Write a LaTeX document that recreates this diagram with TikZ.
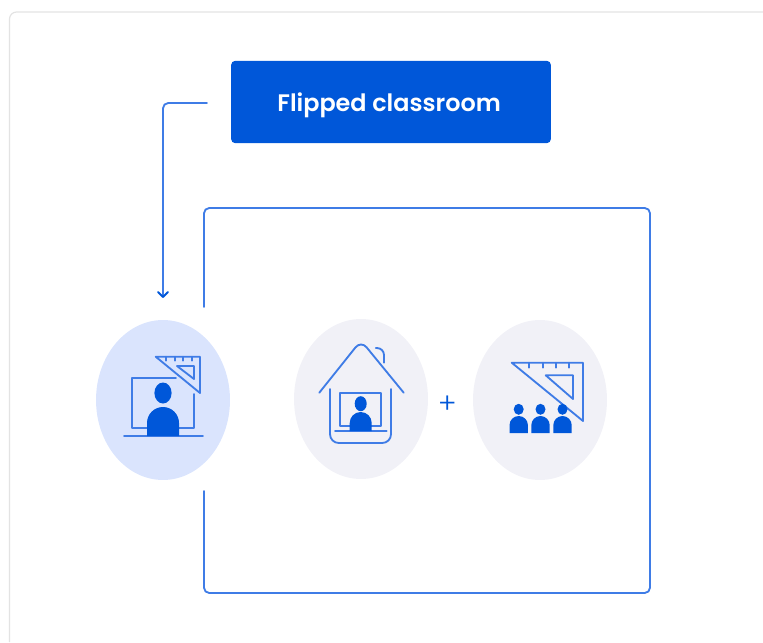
\documentclass[tikz,border=0pt]{standalone}
\usepackage{fontspec}
\setmainfont{Poppins}
\newfontfamily\titlefont{Poppins SemiBold}
\newfontfamily\plusfont{Poppins Light}
\usetikzlibrary{shapes.geometric}
\definecolor{darkblue}{HTML}{0057D9}
\definecolor{lineblue}{HTML}{3F7CE6}
\definecolor{paleblue}{HTML}{DAE4FD}
\definecolor{palegrey}{HTML}{F1F1F7}
\definecolor{cardgrey}{HTML}{E3E3E3}
\tikzset{
    blob/.style={ellipse, inner sep=0, minimum width=2.68cm, minimum height=3.2cm},
    thinline/.style={draw=lineblue, line width=1.05pt, line join=round, line cap=round},
    solidpart/.style={fill=darkblue},
}
\begin{document}
\begin{tikzpicture}[x=0.02cm, y=-0.02cm]
        \useasboundingbox (0, 0) rectangle (763, 642);

        % Card behind everything
        \draw[cardgrey, line width=0.7pt, rounded corners=4] (763, 12) -- (9.5, 12) -- (9.5, 642);

        % Title box
        \node[fill=darkblue, rounded corners=2.5pt, inner sep=0, minimum width=6.4cm, minimum height=1.65cm, text=white, text height=12pt, text depth=0.8pt, font=\fontsize{13.6}{15}\titlefont] (title) at (391, 102) {\mbox{Flipped classroom\hspace{2.2pt}}};

        % Ellipses
        \node[blob, fill=paleblue] (online) at (163, 400) {};
        \node[blob, fill=palegrey] (home) at (361, 399) {};
        \node[blob, fill=palegrey] (school) at (540, 400) {};
        \node[text=darkblue, font=\fontsize{16}{18}\plusfont] (plus) at (447.3, 405) {+};

        % Arrow from title down to the first ellipse
        \coordinate (titleout) at (207, 103);
        \coordinate (onlinein) at (163, 297);
        \draw[thinline, rounded corners=3] (titleout) -- (163, 103) -- (onlinein);
        \draw[thinline, draw=darkblue] (158, 292) -- (onlinein) -- (168, 292);

        % Frame open on the side of the first ellipse
        \coordinate (frametop) at (204, 307);
        \coordinate (framebottom) at (204, 491);
        \draw[thinline, rounded corners=3] (frametop) -- (204, 208) -- (650, 208) -- (650, 593) -- (204, 593) -- (framebottom);

        % First icon: screen, person and set square
        \draw[thinline] (176, 378) -- (132, 378) -- (132, 427.7) -- (194, 427.7) -- (194, 394);
        \draw[thinline] (124, 436) -- (203, 436);
        \fill[solidpart] (163, 393) ellipse (8.6 and 10.5);
        \fill[solidpart] (147, 436) -- (147, 423) arc[start angle=180, end angle=360, radius=16] -- (179, 436) -- cycle;
        \draw[thinline] (155.7, 356.7) -- (200, 356.7) -- (200, 393) -- cycle;
        \draw[thinline] (177, 366) -- (194, 366) -- (194, 379) -- cycle;
        \foreach \tick in {165.7, 175, 183, 191.7}
            \draw[thinline] (\tick, 356.7) -- (\tick, 360.7);

        % Second icon: house with screen and person
        \draw[thinline, rounded corners=5] (319.3, 392.7) -- (361, 340.5) -- (403.7, 392.7);
        \draw[thinline, rounded corners=4] (375.7, 348) -- (384, 348) -- (384, 362.7);
        \draw[thinline, rounded corners=5] (330, 389) -- (330, 443) -- (391, 443) -- (391, 389);
        \draw[thinline] (340.3, 393.3) rectangle (381, 425.7);
        \draw[thinline] (335, 431.3) -- (386.7, 431.3);
        \fill[solidpart] (360.7, 403.7) ellipse (6 and 7.5);
        \fill[solidpart] (349.7, 431) -- (349.7, 423) arc[start angle=180, end angle=360, radius=11] -- (371.7, 431) -- cycle;

        % Third icon: set square and three people
        \draw[thinline] (511.7, 362.7) -- (583, 362.7) -- (583, 421) -- cycle;
        \draw[thinline] (545.7, 375.3) -- (573, 375.3) -- (573, 399) -- cycle;
        \foreach \tick in {529.3, 542.7, 556, 569.3}
            \draw[thinline] (\tick, 362.7) -- (\tick, 367.7);
        \foreach \pupil in {518.7, 540.5, 562.5} {
            \fill[solidpart] (\pupil, 409.3) ellipse (5 and 5.5);
            \fill[solidpart] (\pupil-9.2, 433) -- (\pupil-9.2, 425.2) arc[start angle=180, end angle=360, radius=9.2] -- (\pupil+9.2, 433) -- cycle;
        }

\end{tikzpicture}
\end{document}
